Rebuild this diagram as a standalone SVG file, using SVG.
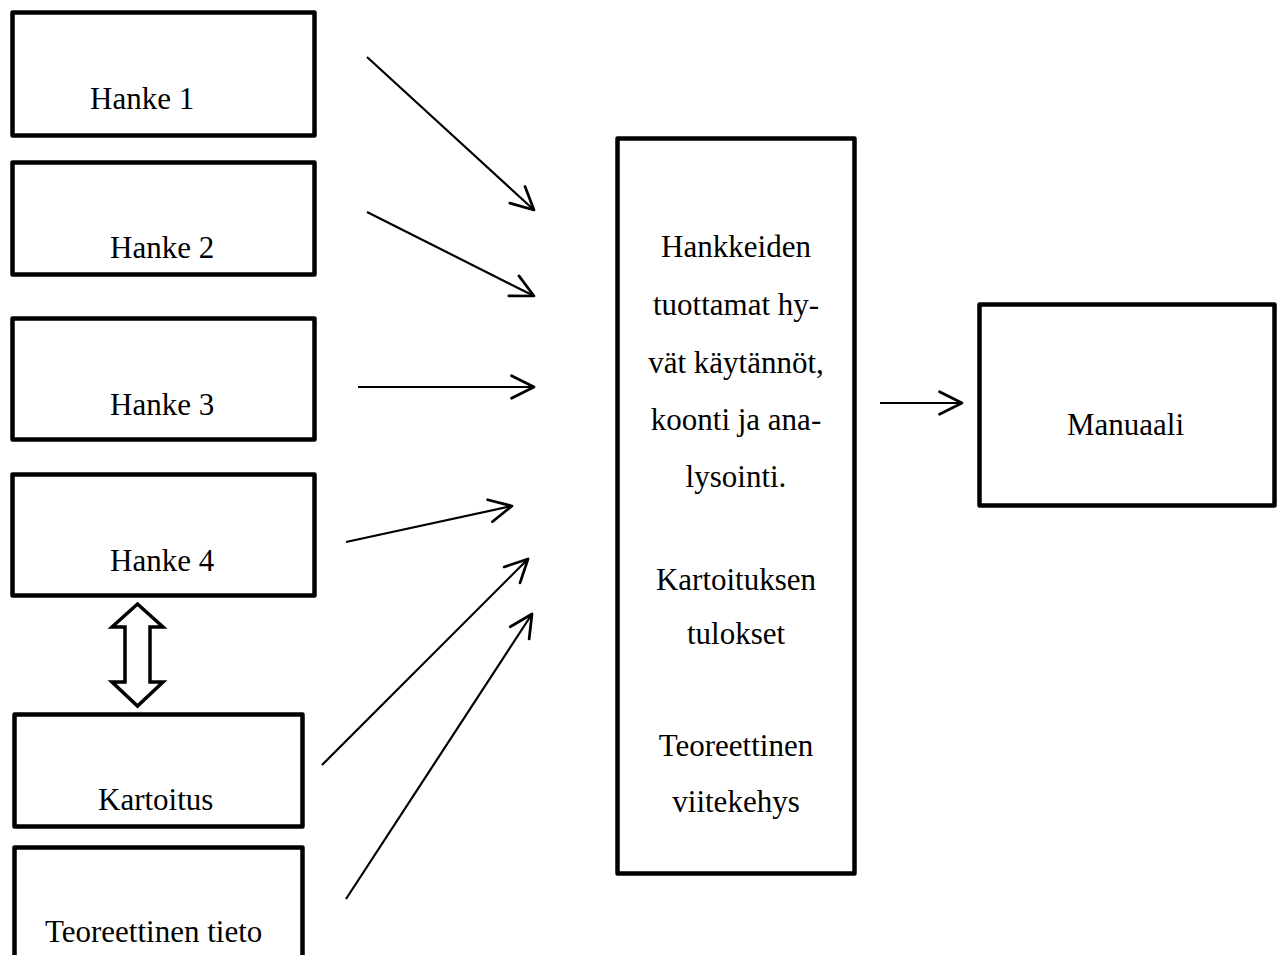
<svg xmlns="http://www.w3.org/2000/svg" width="1281" height="955" viewBox="0 0 1281 955">
<style>
.box{fill:#fff;stroke:#000;stroke-width:4.5;stroke-linejoin:round}
.t{font-family:"Liberation Serif","Times New Roman",serif;font-size:31px;fill:#000}
.c{text-anchor:middle}
.ln{stroke:#000;stroke-width:2.2;fill:none}
</style>
<defs>
<marker id="ah" markerUnits="userSpaceOnUse" markerWidth="30" markerHeight="30" viewBox="-20 -12 24 24" refX="0" refY="0" orient="auto">
<path d="M-18,-9 L0,0 L-18,9" fill="none" stroke="#000" stroke-width="2.2" stroke-linecap="round" stroke-linejoin="round"/>
</marker>
</defs>
<rect width="1281" height="955" fill="#fff"/>
<g id="hanke1"><rect class="box" x="12.5" y="12.5" width="302" height="123"/><text class="t" x="90" y="109">Hanke 1</text></g>
<g id="hanke2"><rect class="box" x="12.5" y="162.5" width="302" height="112"/><text class="t" x="110" y="258">Hanke 2</text></g>
<g id="hanke3"><rect class="box" x="12.5" y="318.5" width="302" height="121"/><text class="t" x="110" y="415">Hanke 3</text></g>
<g id="hanke4"><rect class="box" x="12.5" y="474.5" width="302" height="121"/><text class="t" x="110" y="571">Hanke 4</text></g>
<g id="kartoitus"><rect class="box" x="14.5" y="714.5" width="288" height="112"/><text class="t" x="98" y="810">Kartoitus</text></g>
<g id="teoreettinen"><rect class="box" x="14.5" y="847.5" width="288" height="130"/><text class="t" x="45" y="942">Teoreettinen tieto</text></g>
<g id="keskus"><rect class="box" x="617.5" y="138.5" width="237" height="735"/>
<text class="t c" x="736" y="257">Hankkeiden</text>
<text class="t c" x="736" y="315">tuottamat hy-</text>
<text class="t c" x="736" y="373">vät käytännöt,</text>
<text class="t c" x="736" y="430">koonti ja ana-</text>
<text class="t c" x="736" y="487">lysointi.</text>
<text class="t c" x="736" y="590">Kartoituksen</text>
<text class="t c" x="736" y="644">tulokset</text>
<text class="t c" x="736" y="756">Teoreettinen</text>
<text class="t c" x="736" y="812">viitekehys</text>
</g>
<g id="manuaali"><rect class="box" x="979.5" y="304.5" width="295" height="201"/><text class="t" x="1067" y="435">Manuaali</text></g>
<g id="connectors">
<line class="ln" x1="367" y1="57" x2="534" y2="210" marker-end="url(#ah)"/>
<line class="ln" x1="367" y1="212" x2="534" y2="296" marker-end="url(#ah)"/>
<line class="ln" x1="358" y1="387" x2="534" y2="387" marker-end="url(#ah)"/>
<line class="ln" x1="346" y1="542" x2="512" y2="506" marker-end="url(#ah)"/>
<line class="ln" x1="322" y1="765" x2="528" y2="559" marker-end="url(#ah)"/>
<line class="ln" x1="346" y1="899" x2="532" y2="614" marker-end="url(#ah)"/>
<line class="ln" x1="880" y1="403" x2="962" y2="403" marker-end="url(#ah)"/>
<polygon points="137.5,604 163,627 150,627 150,682 163,682 137.5,706 112,682 125,682 125,627 112,627" fill="#fff" stroke="#000" stroke-width="3.5" stroke-linejoin="miter"/>
</g>
</svg>
